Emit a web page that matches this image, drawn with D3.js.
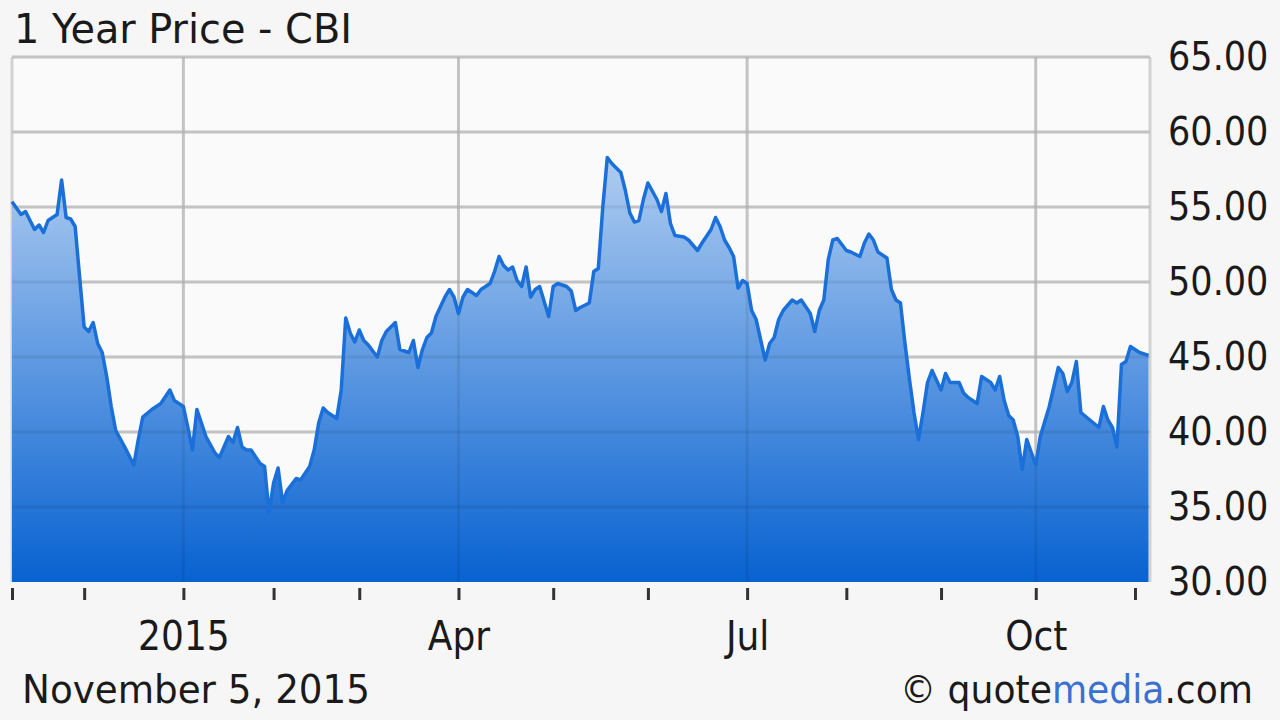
<!DOCTYPE html>
<html>
<head>
<meta charset="utf-8">
<script src="https://cdn.jsdelivr.net/npm/d3@7/dist/d3.min.js"></script>
<style>
  html, body { margin: 0; padding: 0; background: #f6f6f6; }
  svg { display: block; }
  text { font-family: "DejaVu Sans Condensed", "DejaVu Sans", sans-serif; fill: #1a1a1a; }
</style>
</head>
<body>
<svg id="chart" width="1280" height="720"></svg>
<script>
// ---- data (trading-day index since Nov 5, 2014, closing price) ----
const days = [0,2,3,5,6,7,8,10,11,12,13,14,15,16,17,18,19,20,21,22,23,25,27,28,29,31,33,35,36,38,39,40,41,
  43,45,46,48,49,50,51,52,53,55,56,57,58,59,60,61,63,64,66,67,68,69,70,72,73,74,75,76,77,78,79,81,82,83,
  85,86,88,89,90,91,92,93,94,96,97,98,99,100,101,103,104,106,107,108,109,110,111,112,113,114,115,116,117,119,120,121,123,124,125,
  126,128,129,130,131,132,133,135,136,137,138,139,140,141,143,144,145,146,147,149,150,152,153,155,156,157,158,159,160,161,162,163,164,165,167,
  168,169,170,171,173,174,175,177,178,179,180,181,182,183,185,186,188,189,190,191,192,194,195,196,197,198,199,200,201,202,203,204,206,207,208,210,
  211,212,214,215,217,218,219,220,221,222,223,224,225,227,228,230,232,233,234,235,236,237,239,241,242,243,244,245,246,247,248,250,252];
const prices = [55.35,54.5,54.7,53.5,53.8,53.3,54.1,54.5,56.8,54.3,54.2,53.7,50.3,47.0,46.7,47.3,45.9,45.3,43.7,41.7,40.1,39.0,37.8,39.5,41.0,41.5,41.9,42.8,42.1,41.7,40.3,38.8,41.5,
  39.7,38.6,38.3,39.7,39.3,40.3,39.0,38.8,38.8,37.9,37.7,34.6,36.6,37.6,35.3,36.1,36.9,36.8,37.7,38.8,40.6,41.6,41.3,40.9,42.8,47.6,46.6,46.0,46.8,46.1,45.8,45.0,46.1,46.7,
  47.3,45.5,45.3,46.1,44.3,45.5,46.3,46.6,47.7,49.0,49.5,49.0,47.9,49.0,49.5,49.1,49.5,49.9,50.7,51.7,51.1,50.8,51.0,50.1,49.7,51.0,49.0,49.5,49.7,47.7,49.7,49.9,49.7,49.4,48.1,
  48.3,48.6,50.7,50.9,55.0,58.3,57.9,57.3,56.1,54.6,54.0,54.1,55.5,56.6,55.5,54.7,55.9,53.9,53.1,53.0,52.8,52.1,52.6,53.5,54.3,53.7,52.8,52.3,51.7,49.6,50.1,49.9,48.1,47.5,44.8,
  45.9,46.3,47.5,48.1,48.8,48.6,48.8,47.9,46.7,48.1,48.8,51.5,52.8,52.9,52.1,52.0,51.7,52.6,53.2,52.8,52.0,51.6,49.5,48.8,48.6,45.9,43.5,41.3,39.5,41.3,43.3,44.1,42.8,43.9,43.3,43.3,
  42.6,42.3,41.9,43.7,43.3,42.8,43.7,42.1,41.1,40.8,39.7,37.5,39.5,37.8,39.7,41.7,44.3,43.9,42.7,43.3,44.7,41.3,40.8,40.3,41.7,40.8,40.3,39.0,44.5,44.7,45.7,45.3,45.1];

const monthTicks = [0,16,38,58,77,99,120,141,163,185,206,227,249];
const monthLabels = {38: "2015", 99: "Apr", 163: "Jul", 227: "Oct"};
const priceTicks = [30,35,40,45,50,55,60,65];
const title = "1 Year Price - CBI";
const dateText = "November 5, 2015";

// ---- layout ----
const svg = d3.select("#chart");
const L = 12, R = 1150, T = 57, B = 582;
const x = d3.scaleLinear().domain([0, 252]).range([L, 1148.5]);
const y = d3.scaleLinear().domain([30, 65]).range([B, T]);
const data = days.map((d, i) => ({d, p: prices[i]}));
const hGrid = priceTicks.filter(v => v > 30);
const vGrid = Object.keys(monthLabels).map(Number);

// plot background
svg.append("rect").attr("x", L).attr("y", T).attr("width", R - L).attr("height", B - T).attr("fill", "#fafafa");

// gridlines under the area
function drawGrid(stroke) {
  const g = svg.append("g").attr("stroke", stroke).attr("stroke-width", 3);
  g.selectAll("line.h").data(hGrid).join("line")
    .attr("x1", L).attr("x2", R).attr("y1", d => y(d)).attr("y2", d => y(d));
  g.selectAll("line.v").data(vGrid).join("line")
    .attr("x1", d => x(d)).attr("x2", d => x(d)).attr("y1", T).attr("y2", B);
  return g;
}
const g0 = drawGrid("#d2d2d2");
g0.append("line").attr("x1", L).attr("x2", L).attr("y1", T).attr("y2", B);
g0.append("line").attr("x1", R).attr("x2", R).attr("y1", T).attr("y2", B);

// gradient
const defs = svg.append("defs");
const grad = defs.append("linearGradient").attr("id", "areaGrad")
  .attr("gradientUnits", "userSpaceOnUse").attr("x1", 0).attr("x2", 0).attr("y1", T).attr("y2", B);
grad.append("stop").attr("offset", "0%").attr("stop-color", "#d6e6f8");
grad.append("stop").attr("offset", "100%").attr("stop-color", "#0862d1");

// area
const area = d3.area().x(d => x(d.d)).y0(y(30)).y1(d => y(d.p));
svg.append("path").datum(data).attr("d", area).attr("fill", "url(#areaGrad)");

// faint gridlines showing through the area
drawGrid("rgba(0,0,0,0.07)");

// line
const line = d3.line().x(d => x(d.d)).y(d => y(d.p));
svg.append("path").datum(data).attr("d", line).attr("fill", "none")
  .attr("stroke", "#1a6fd9").attr("stroke-width", 3.5).attr("stroke-linejoin", "round");

// x axis
const xAxis = d3.axisBottom(x).tickValues(monthTicks).tickSize(12).tickPadding(22)
  .tickFormat(d => monthLabels[d] || "");
const gx = svg.append("g").attr("transform", `translate(0,${B + 6})`).call(xAxis);
gx.select(".domain").remove();
gx.selectAll(".tick line").attr("stroke", "#333").attr("stroke-width", 3);
gx.selectAll(".tick text").attr("font-size", 40).attr("font-family", "DejaVu Sans Condensed, DejaVu Sans").attr("fill", "#1a1a1a");

// y axis
const yAxis = d3.axisRight(y).tickValues(priceTicks).tickSize(0).tickPadding(18).tickFormat(d3.format(".2f"));
const gy = svg.append("g").attr("transform", `translate(${R},0)`).call(yAxis);
gy.select(".domain").remove();
gy.selectAll(".tick text").attr("font-size", 39).attr("font-family", "DejaVu Sans Condensed, DejaVu Sans").attr("fill", "#1a1a1a");

// title & footer
svg.append("text").attr("x", 14).attr("y", 43).attr("font-size", 40)
  .attr("textLength", 338).attr("lengthAdjust", "spacingAndGlyphs").text(title);
svg.append("text").attr("x", 22).attr("y", 703).attr("font-size", 39)
  .attr("textLength", 348).attr("lengthAdjust", "spacingAndGlyphs").text(dateText);
const cr = svg.append("text").attr("x", 900).attr("y", 703).attr("font-size", 39)
  .attr("textLength", 353).attr("lengthAdjust", "spacingAndGlyphs");
cr.append("tspan").text("© quote");
cr.append("tspan").attr("fill", "#3b6fd0").text("media");
cr.append("tspan").text(".com");
</script>
</body>
</html>
